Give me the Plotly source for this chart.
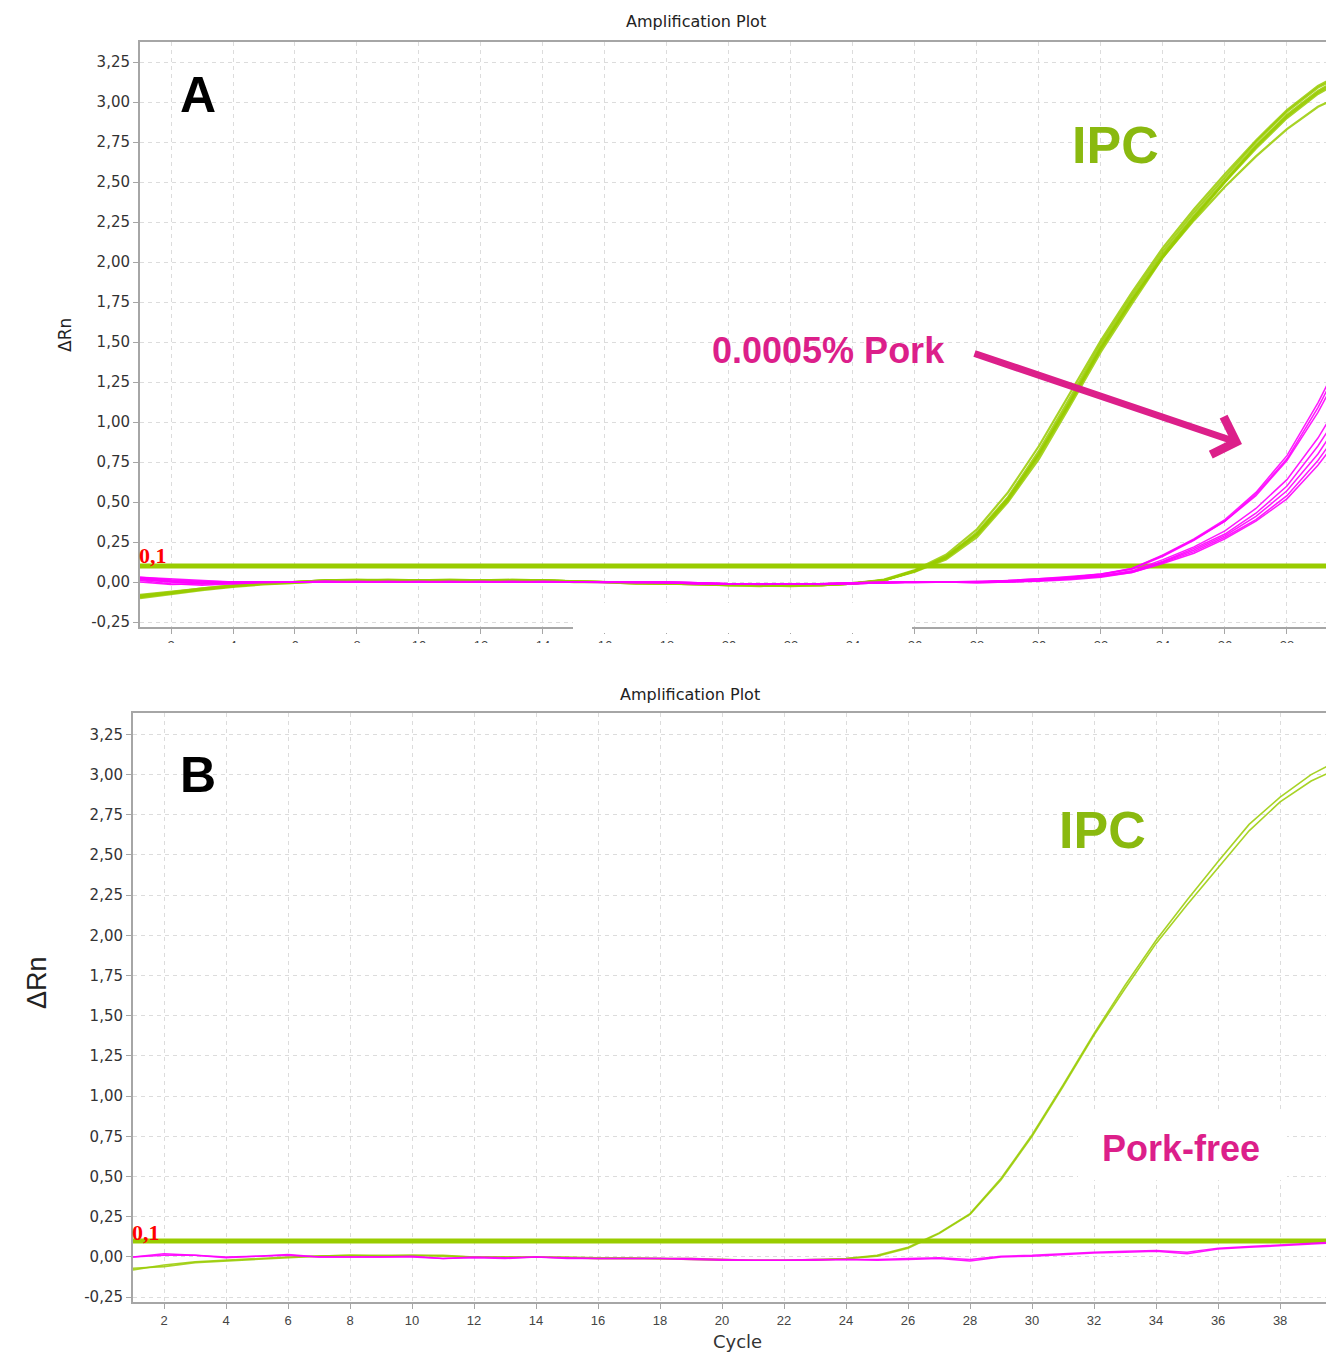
import plotly.graph_objects as go

# ---------------- data ----------------
CYCLES = list(range(1, 41))
X_TICKS = list(range(2, 40, 2))
Y_TICKS = [-0.25, 0.0, 0.25, 0.5, 0.75, 1.0, 1.25, 1.5, 1.75, 2.0, 2.25, 2.5, 2.75, 3.0, 3.25]
Y_TICK_TEXT = ["-0,25", "0,00", "0,25", "0,50", "0,75", "1,00", "1,25", "1,50", "1,75", "2,00",
               "2,25", "2,50", "2,75", "3,00", "3,25"]
THRESHOLD = 0.1

# Panel A - IPC (green)
IPC_A_1 = [-0.09,-0.07,-0.045,-0.025,-0.01,0.00,0.01,0.01,0.01,0.01,0.01,0.01,0.01,0.01,0.005,0.00,-0.005,-0.01,-0.01,-0.015,-0.02,-0.02,-0.02,-0.01,0.01,0.07,0.16,0.30,0.52,0.80,1.13,1.47,1.77,2.05,2.29,2.51,2.73,2.92,3.07,3.18]
IPC_A_2 = [-0.10,-0.075,-0.05,-0.03,-0.015,-0.005,0.005,0.01,0.01,0.01,0.01,0.01,0.01,0.01,0.005,0.00,-0.005,-0.01,-0.015,-0.02,-0.02,-0.025,-0.02,-0.01,0.015,0.075,0.17,0.33,0.56,0.85,1.18,1.51,1.81,2.09,2.33,2.55,2.76,2.95,3.10,3.20]
IPC_A_3 = [-0.08,-0.06,-0.04,-0.02,-0.01,0.00,0.01,0.015,0.01,0.01,0.015,0.01,0.01,0.01,0.00,0.00,-0.01,-0.01,-0.01,-0.02,-0.02,-0.02,-0.015,-0.005,0.01,0.065,0.14,0.28,0.50,0.77,1.10,1.44,1.74,2.03,2.27,2.50,2.72,2.91,3.06,3.17]
IPC_A_4 = [-0.095,-0.07,-0.045,-0.025,-0.01,0.00,0.01,0.01,0.01,0.01,0.01,0.01,0.01,0.01,0.005,0.00,-0.005,-0.01,-0.015,-0.02,-0.02,-0.02,-0.02,-0.01,0.01,0.07,0.15,0.30,0.52,0.80,1.12,1.46,1.76,2.03,2.26,2.47,2.66,2.83,2.97,3.06]
IPC_A_5 = [-0.085,-0.065,-0.04,-0.02,-0.01,0.00,0.01,0.01,0.015,0.01,0.01,0.01,0.015,0.01,0.005,0.00,-0.005,-0.01,-0.01,-0.015,-0.02,-0.02,-0.02,-0.01,0.012,0.07,0.155,0.31,0.53,0.82,1.15,1.49,1.79,2.07,2.31,2.53,2.75,2.94,3.09,3.19]
IPC_A_6 = [-0.09,-0.07,-0.045,-0.025,-0.01,-0.005,0.005,0.01,0.01,0.01,0.01,0.01,0.01,0.01,0.005,0.00,-0.01,-0.01,-0.015,-0.02,-0.025,-0.02,-0.02,-0.01,0.01,0.068,0.15,0.295,0.51,0.79,1.12,1.46,1.76,2.04,2.28,2.50,2.71,2.90,3.05,3.16]

# Panel A - 0.0005% pork (magenta)
PORK_A_1 = [0.03,0.02,0.01,0.00,0.00,0.00,0.00,0.005,0.00,0.00,0.00,0.00,0.00,0.00,0.00,-0.005,0.00,0.00,-0.005,-0.01,-0.01,-0.01,-0.01,-0.01,-0.005,-0.005,0.00,0.00,0.01,0.02,0.035,0.05,0.085,0.17,0.27,0.39,0.56,0.79,1.12,1.50]
PORK_A_2 = [0.02,0.00,-0.01,-0.01,0.00,0.00,0.005,0.00,0.00,0.005,0.00,0.00,0.00,0.00,0.00,0.00,0.00,-0.005,-0.01,-0.01,-0.01,-0.01,-0.01,-0.005,-0.005,0.00,0.00,0.005,0.01,0.02,0.03,0.05,0.08,0.16,0.26,0.38,0.55,0.77,1.09,1.46]
PORK_A_3 = [0.01,-0.01,-0.02,-0.01,-0.005,0.00,0.00,0.00,0.005,0.00,0.00,0.005,0.00,0.00,0.00,0.00,-0.005,-0.005,-0.01,-0.01,-0.015,-0.01,-0.01,-0.005,0.00,0.00,0.00,0.00,0.005,0.015,0.03,0.045,0.085,0.165,0.265,0.38,0.54,0.76,1.06,1.42]
PORK_A_4 = [0.03,0.015,0.005,0.00,0.00,0.00,0.00,0.00,0.00,0.00,0.005,0.00,0.00,0.00,0.00,0.00,0.00,0.00,-0.005,-0.01,-0.01,-0.01,-0.01,-0.01,-0.005,0.00,0.00,-0.005,0.00,0.01,0.025,0.04,0.07,0.14,0.22,0.32,0.46,0.64,0.90,1.22]
PORK_A_5 = [0.00,-0.015,-0.01,-0.005,0.00,0.00,0.00,0.00,0.00,0.00,0.00,0.00,0.005,0.00,0.00,0.00,0.00,0.00,-0.005,-0.01,-0.01,-0.01,-0.01,-0.005,-0.005,0.00,0.00,0.00,0.005,0.01,0.02,0.04,0.065,0.13,0.21,0.30,0.43,0.60,0.85,1.15]
PORK_A_6 = [0.025,0.01,0.00,0.00,0.00,0.00,0.005,0.00,0.00,0.00,0.00,0.00,0.00,0.005,0.00,0.00,0.00,-0.005,-0.01,-0.01,-0.01,-0.01,-0.015,-0.01,-0.005,0.00,0.00,0.00,0.00,0.01,0.02,0.035,0.065,0.125,0.20,0.29,0.41,0.57,0.80,1.09]
PORK_A_7 = [0.015,0.00,-0.01,0.00,0.00,0.00,0.00,0.00,0.00,0.00,0.00,0.00,0.00,0.00,0.00,0.00,0.00,0.00,-0.005,-0.01,-0.01,-0.01,-0.01,-0.005,0.00,0.00,0.00,0.00,0.005,0.01,0.02,0.035,0.06,0.12,0.19,0.28,0.39,0.54,0.76,1.03]
PORK_A_8 = [0.02,0.005,-0.005,0.00,0.00,0.00,0.00,0.00,0.00,0.00,0.00,0.00,0.00,0.00,0.00,0.00,-0.005,-0.005,-0.01,-0.01,-0.01,-0.01,-0.01,-0.01,-0.005,0.00,0.00,-0.005,0.00,0.005,0.015,0.03,0.06,0.115,0.18,0.27,0.38,0.52,0.73,0.98]

# Panel B - IPC (green)
IPC_B_1 = [-0.08,-0.05,-0.03,-0.02,-0.01,0.00,0.005,0.01,0.005,0.01,0.005,0.00,0.00,0.00,0.00,-0.005,-0.005,-0.01,-0.01,-0.015,-0.02,-0.02,-0.015,-0.01,0.01,0.06,0.15,0.27,0.49,0.76,1.07,1.39,1.69,1.97,2.22,2.46,2.69,2.86,3.00,3.10]
IPC_B_2 = [-0.07,-0.06,-0.035,-0.025,-0.015,-0.005,0.005,0.01,0.01,0.01,0.01,0.00,0.00,0.00,-0.005,-0.01,-0.01,-0.01,-0.015,-0.02,-0.02,-0.02,-0.02,-0.01,0.005,0.055,0.145,0.265,0.48,0.75,1.06,1.38,1.67,1.95,2.19,2.42,2.65,2.83,2.96,3.05]

# Panel B - pork-free (magenta)
PORK_B_1 = [0.00,0.02,0.01,0.00,0.005,0.015,0.00,0.00,0.00,0.005,-0.01,0.00,-0.005,0.00,-0.005,-0.01,-0.01,-0.01,-0.01,-0.015,-0.02,-0.02,-0.015,-0.015,-0.015,-0.01,-0.005,-0.015,0.005,0.01,0.02,0.03,0.035,0.04,0.03,0.055,0.065,0.075,0.085,0.095]
PORK_B_2 = [0.00,0.01,0.01,-0.005,0.005,0.01,0.00,0.00,0.00,0.00,-0.01,-0.005,-0.01,0.00,-0.01,-0.01,-0.01,-0.01,-0.015,-0.02,-0.02,-0.02,-0.02,-0.015,-0.02,-0.015,-0.01,-0.025,0.00,0.005,0.015,0.025,0.03,0.035,0.02,0.05,0.06,0.07,0.08,0.09]

IPC_A = [IPC_A_1, IPC_A_2, IPC_A_3, IPC_A_4, IPC_A_5, IPC_A_6]
PORK_A = [PORK_A_1, PORK_A_2, PORK_A_3, PORK_A_4, PORK_A_5, PORK_A_6, PORK_A_7, PORK_A_8]
IPC_B = [IPC_B_1, IPC_B_2]
PORK_B = [PORK_B_1, PORK_B_2]

# ---------------- styling ----------------
W, H = 1326, 1353
GREEN = "#99cc00"
MAGENTA = "#ff00ff"
TEXT_GREEN = "#8ab90f"
TEXT_PINK = "#dc1f8a"


def px(x):
    return x / W


def py(y):
    return 1 - y / H


fig = go.Figure()

for xa, ya, ipc, pork in (("x", "y", IPC_A, PORK_A), ("x2", "y2", IPC_B, PORK_B)):
    fig.add_trace(go.Scatter(x=[CYCLES[0], CYCLES[-1]], y=[THRESHOLD, THRESHOLD], mode="lines",
                             line=dict(color=GREEN, width=5), xaxis=xa, yaxis=ya, hoverinfo="skip"))
    for s in ipc:
        fig.add_trace(go.Scatter(x=CYCLES, y=s, mode="lines", line=dict(color=GREEN, width=2.2 if xa == "x" else 1.6),
                                 opacity=0.85, xaxis=xa, yaxis=ya))
    for s in pork:
        fig.add_trace(go.Scatter(x=CYCLES, y=s, mode="lines", line=dict(color=MAGENTA, width=1.5),
                                 opacity=0.9, xaxis=xa, yaxis=ya))

axis_common = dict(showgrid=True, gridcolor="#dcdcdc", griddash="4px,4px", gridwidth=1,
                   showline=True, linecolor="#a6a6a6", linewidth=2, zeroline=False,
                   ticks="outside", ticklen=5, tickcolor="#a6a6a6", automargin=False)

xt = dict(tickvals=X_TICKS, tickfont=dict(family="Liberation Sans", size=13, color="#444"), mirror=True)
yt = dict(tickvals=Y_TICKS, ticktext=Y_TICK_TEXT, tickfont=dict(family="DejaVu Sans", size=15, color="#333"))

fig.update_layout(
    width=W, height=H, margin=dict(l=0, r=0, t=0, b=0),
    paper_bgcolor="white", plot_bgcolor="white", showlegend=False,
    font=dict(family="DejaVu Sans", color="#333"),
    xaxis=dict(domain=[px(140), 1], range=[1, 39.26], anchor="y", **xt, **axis_common),
    yaxis=dict(domain=[py(627), py(42)], range=[-0.281, 3.375], anchor="x", **yt, **axis_common),
    xaxis2=dict(domain=[px(133), 1], range=[1, 39.48], anchor="y2", **xt, **axis_common),
    yaxis2=dict(domain=[py(1302), py(713)], range=[-0.28, 3.383], anchor="x2", **yt, **axis_common),
)

shapes = [
    # cropped bottom of panel A tick labels
    dict(type="rect", xref="paper", yref="paper", x0=0, x1=1, y0=py(680), y1=py(643),
         fillcolor="white", line=dict(width=0), layer="above"),
    # erased part of panel A bottom axis
    dict(type="rect", xref="paper", yref="paper", x0=px(573), x1=px(912), y0=py(633), y1=py(603),
         fillcolor="white", line=dict(width=0), layer="above"),
    # white box behind "Pork-free"
    dict(type="rect", xref="paper", yref="paper", x0=px(1078), x1=px(1287), y0=py(1180), y1=py(1113),
         fillcolor="white", line=dict(width=0), layer="above"),
]
fig.update_layout(shapes=shapes)


def ann(text, x, y, size, color, family="Liberation Sans", weight="normal", angle=0, xanchor="center"):
    return dict(text=text, x=px(x), y=py(y), xref="paper", yref="paper", showarrow=False,
                xanchor=xanchor, yanchor="middle", textangle=angle,
                font=dict(family=family, size=size, color=color, weight=weight))


annotations = [
    ann("Amplification Plot", 696, 22, 16, "#222", family="DejaVu Sans"),
    ann("Amplification Plot", 690, 694, 16, "#222", family="DejaVu Sans"),
    ann("A", 198, 95, 50, "black", weight="bold"),
    ann("B", 198, 775, 50, "black", weight="bold"),
    ann("IPC", 1115, 145, 52, TEXT_GREEN, weight="bold"),
    ann("IPC", 1102, 830, 52, TEXT_GREEN, weight="bold"),
    ann("0.0005% Pork", 828, 350, 36, TEXT_PINK, weight="bold"),
    ann("Pork-free", 1181, 1148, 36, TEXT_PINK, weight="bold"),
    ann("0,1", 137, 556, 22, "red", family="Liberation Serif", weight="bold", xanchor="left"),
    ann("0,1", 130, 1232, 22, "red", family="Liberation Serif", weight="bold", xanchor="left"),
    ann("ΔRn", 65, 335, 17, "#222", family="DejaVu Sans", angle=-90),
    ann("ΔRn", 37, 983, 27, "#222", angle=-90),
    ann("Cycle", 737, 1341, 18, "#333", family="DejaVu Sans"),
    dict(text="", x=px(1242), y=py(444), xref="paper", yref="paper", showarrow=True,
         axref="pixel", ayref="pixel", ax=-269, ay=-91, arrowhead=4, arrowwidth=7,
         arrowsize=1.1, arrowcolor=TEXT_PINK, standoff=0, startstandoff=0),
]
fig.update_layout(annotations=annotations)

fig.write_html(
    "out.html",
    config={"displayModeBar": False},
    post_script="document.body.style.margin='0';document.body.style.padding='0';"
                "document.documentElement.style.overflow='hidden';",
)
